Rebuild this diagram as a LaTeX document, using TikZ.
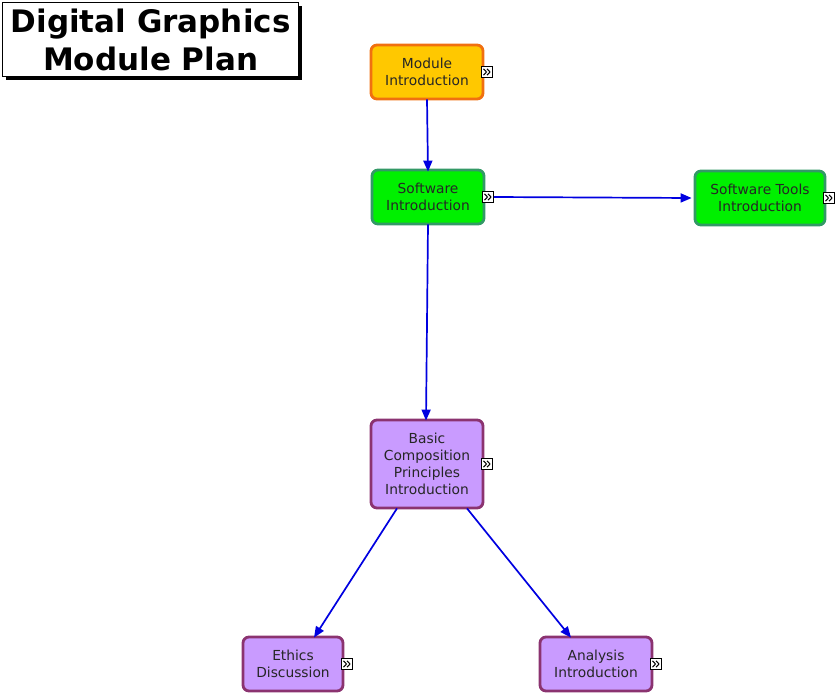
\documentclass[tikz,border=0pt]{standalone}
\usepackage{fontspec}
\setmainfont{DejaVu Sans}
\usetikzlibrary{arrows.meta}
\definecolor{edgeblue}{HTML}{0000E0}
\definecolor{modfill}{HTML}{FFC800}
\definecolor{modline}{HTML}{F07010}
\definecolor{swfill}{HTML}{00F000}
\definecolor{swline}{HTML}{339966}
\definecolor{bcfill}{HTML}{C99BFF}
\definecolor{bcline}{HTML}{8B3370}
\tikzset{
  box/.style={rounded corners=6pt, line width=2.8pt, align=center, inner sep=0pt,
    font=\fontsize{13.8}{17}\selectfont, text=black!85},
  modbox/.style={box, draw=modline, fill=modfill},
  swbox/.style={box, draw=swline, fill=swfill},
  bcbox/.style={box, draw=bcline, fill=bcfill},
  icon/.style={draw=black, fill=white, line width=0.8pt, minimum width=11pt, minimum height=11pt, inner sep=0pt},
  conn/.style={draw=edgeblue, line width=1.7pt, -{Triangle[length=11pt,width=9pt]}},
}
\newcommand{\chev}[1]{%
  \draw[line width=1pt] ([xshift=-3.5pt,yshift=3.2pt]#1.center) -- ([xshift=-0.5pt]#1.center) -- ([xshift=-3.5pt,yshift=-3.2pt]#1.center);
  \draw[line width=1pt] ([xshift=0pt,yshift=3.2pt]#1.center) -- ([xshift=3pt]#1.center) -- ([xshift=0pt,yshift=-3.2pt]#1.center);
}
\begin{document}
\begin{tikzpicture}[x=1pt,y=-1pt]
\useasboundingbox (0,0) rectangle (838,693);
% title
\fill[black] (6,6) rectangle (302,80);
\node[draw=black, fill=white, line width=1.2pt, minimum width=296pt, minimum height=74pt, inner sep=0pt, anchor=north west,
  align=center, font=\bfseries\fontsize{31}{38}\selectfont] (title) at (2,2) {Digital Graphics\\Module Plan};
% nodes
\node[modbox, minimum width=112pt, minimum height=54pt] (mod) at (427,72) {Module\\Introduction};
\node[swbox, minimum width=112pt, minimum height=54pt] (sw) at (428,197) {Software\\Introduction};
\node[swbox, minimum width=130pt, minimum height=54pt] (swt) at (760,198) {Software Tools\\Introduction};
\node[bcbox, minimum width=112pt, minimum height=88pt] (bc) at (427,464) {Basic\\Composition\\Principles\\Introduction};
\node[bcbox, minimum width=100pt, minimum height=54pt] (eth) at (293,664) {Ethics\\Discussion};
\node[bcbox, minimum width=112pt, minimum height=54pt] (ana) at (596,664) {Analysis\\Introduction};
% icons
\node[icon] (imod) at (487,72) {}; \chev{imod}
\node[icon] (isw) at (488,197) {}; \chev{isw}
\node[icon] (iswt) at (829,198) {}; \chev{iswt}
\node[icon] (ibc) at (487,464) {}; \chev{ibc}
\node[icon] (ieth) at (347,664) {}; \chev{ieth}
\node[icon] (iana) at (656,664) {}; \chev{iana}
% connectors
\draw[conn] ([yshift=1pt]mod.south) -- ([yshift=-3pt]sw.north);
\draw[conn] ([yshift=1pt]sw.south) -- ([xshift=-1pt,yshift=-2pt]bc.north);
\draw[conn] (isw.east) -- ([xshift=-2pt]swt.west);
\draw[conn] ([xshift=-30pt,yshift=1pt]bc.south) -- ([xshift=21pt,yshift=-2pt]eth.north);
\draw[conn] ([xshift=40pt,yshift=1pt]bc.south) -- ([xshift=-25pt,yshift=-2pt]ana.north);
\end{tikzpicture}
\end{document}
